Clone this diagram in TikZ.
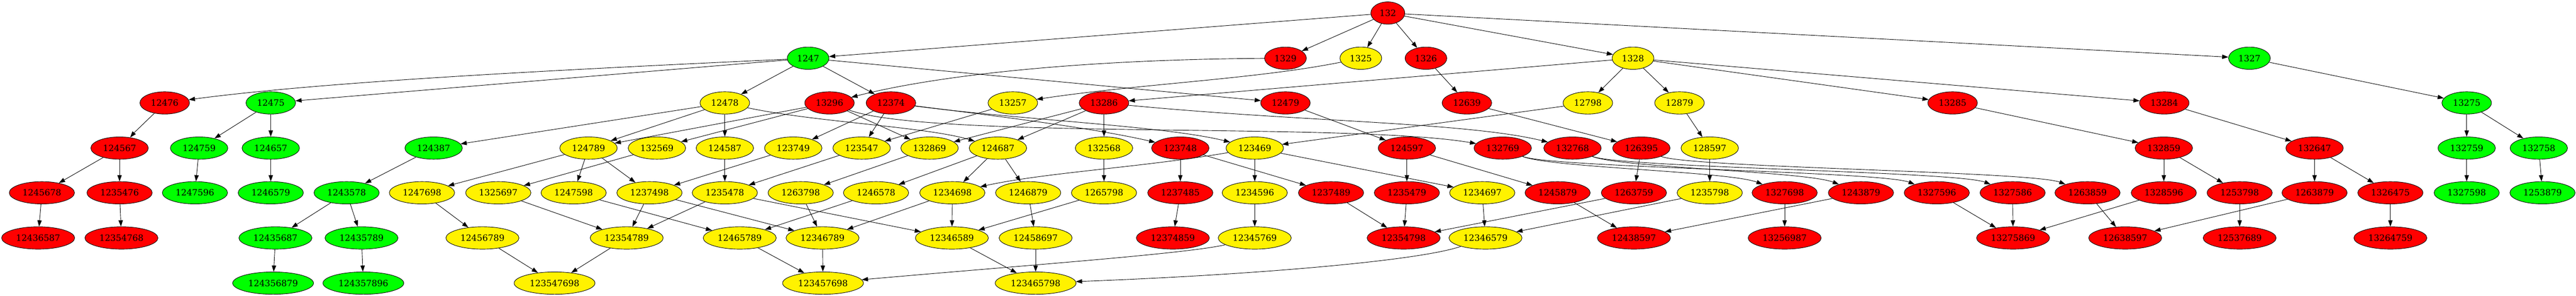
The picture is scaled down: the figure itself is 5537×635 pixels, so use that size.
\documentclass[tikz,border=0pt]{standalone}
\usepackage{fontspec}
\setmainfont{DejaVu Serif}
\usetikzlibrary{shapes.geometric,arrows.meta}

\begin{document}
\begin{tikzpicture}[x=0.75pt,y=-0.75pt,
    perm/.style={ellipse,draw=black,line width=0.75pt,inner xsep=6pt,inner ysep=1pt,minimum height=36pt,font=\fontsize{14}{17}\selectfont},
    rednode/.style={perm,fill=red},
    greennode/.style={perm,fill=green},
    yellownode/.style={perm,fill=yellow},
    link/.style={-{Triangle[length=10pt,width=7pt]},line width=0.75pt}]
   \useasboundingbox (0,0) rectangle (5537,635);

   \node[rednode] (n132) at (2983,28) {132};

   \node[greennode] (n1247) at (1737,125) {1247};
   \node[rednode] (n1329) at (2763,125) {1329};
   \node[yellownode] (n1325) at (2925,125) {1325};
   \node[rednode] (n1326) at (3065,125) {1326};
   \node[yellownode] (n1328) at (3510,125) {1328};
   \node[greennode] (n1327) at (4835,125) {1327};

   \node[rednode] (n12476) at (354,221) {12476};
   \node[greennode] (n12475) at (582,221) {12475};
   \node[yellownode] (n12478) at (1558,221) {12478};
   \node[rednode] (n13296) at (1783,221) {13296};
   \node[rednode] (n12374) at (1915,221) {12374};
   \node[yellownode] (n13257) at (2177,221) {13257};
   \node[rednode] (n13286) at (2373,221) {13286};
   \node[rednode] (n12479) at (2763,221) {12479};
   \node[rednode] (n12639) at (3153,221) {12639};
   \node[yellownode] (n12798) at (3413,221) {12798};
   \node[yellownode] (n12879) at (3610,221) {12879};
   \node[rednode] (n13285) at (4197,221) {13285};
   \node[rednode] (n13284) at (4652,221) {13284};
   \node[greennode] (n13275) at (5302,221) {13275};

   \node[rednode] (n124567) at (257,318) {124567};
   \node[greennode] (n124759) at (428,318) {124759};
   \node[greennode] (n124657) at (582,318) {124657};
   \node[greennode] (n124387) at (932,318) {124387};
   \node[yellownode] (n124789) at (1265,318) {124789};
   \node[yellownode] (n132569) at (1412,318) {132569};
   \node[yellownode] (n124587) at (1558,318) {124587};
   \node[yellownode] (n123749) at (1705,318) {123749};
   \node[yellownode] (n123547) at (1852,318) {123547};
   \node[yellownode] (n132869) at (1998,318) {132869};
   \node[yellownode] (n124687) at (2145,318) {124687};
   \node[yellownode] (n132568) at (2373,318) {132568};
   \node[rednode] (n123748) at (2537,318) {123748};
   \node[yellownode] (n123469) at (2697,318) {123469};
   \node[rednode] (n124597) at (3024,318) {124597};
   \node[rednode] (n132769) at (3230,318) {132769};
   \node[rednode] (n132768) at (3380,318) {132768};
   \node[rednode] (n126395) at (3528,318) {126395};
   \node[yellownode] (n128597) at (3675,318) {128597};
   \node[rednode] (n132859) at (4651,318) {132859};
   \node[rednode] (n132647) at (4975,318) {132647};
   \node[greennode] (n132759) at (5302,318) {132759};
   \node[greennode] (n132758) at (5457,318) {132758};

   \node[rednode] (n1245678) at (90,414) {1245678};
   \node[rednode] (n1235476) at (257,414) {1235476};
   \node[greennode] (n1247596) at (419,414) {1247596};
   \node[greennode] (n1246579) at (582,414) {1246579};
   \node[greennode] (n1243578) at (745,414) {1243578};
   \node[yellownode] (n1247698) at (907,414) {1247698};
   \node[yellownode] (n1325697) at (1071,414) {1325697};
   \node[yellownode] (n1247598) at (1233,414) {1247598};
   \node[yellownode] (n1237498) at (1396,414) {1237498};
   \node[yellownode] (n1235478) at (1558,414) {1235478};
   \node[yellownode] (n1263798) at (1721,414) {1263798};
   \node[yellownode] (n1246578) at (1883,414) {1246578};
   \node[yellownode] (n1234698) at (2047,414) {1234698};
   \node[yellownode] (n1246879) at (2210,414) {1246879};
   \node[yellownode] (n1265798) at (2373,414) {1265798};
   \node[rednode] (n1237485) at (2537,414) {1237485};
   \node[yellownode] (n1234596) at (2697,414) {1234596};
   \node[rednode] (n1237489) at (2861,414) {1237489};
   \node[rednode] (n1235479) at (3024,414) {1235479};
   \node[yellownode] (n1234697) at (3186,414) {1234697};
   \node[rednode] (n1245879) at (3348,414) {1245879};
   \node[rednode] (n1263759) at (3512,414) {1263759};
   \node[yellownode] (n1235798) at (3675,414) {1235798};
   \node[rednode] (n1327698) at (3836,414) {1327698};
   \node[rednode] (n1243879) at (4000,414) {1243879};
   \node[rednode] (n1327596) at (4163,414) {1327596};
   \node[rednode] (n1327586) at (4326,414) {1327586};
   \node[rednode] (n1263859) at (4487,414) {1263859};
   \node[rednode] (n1328596) at (4651,414) {1328596};
   \node[rednode] (n1253798) at (4814,414) {1253798};
   \node[rednode] (n1263879) at (4975,414) {1263879};
   \node[rednode] (n1326475) at (5138,414) {1326475};
   \node[greennode] (n1327598) at (5302,414) {1327598};
   \node[greennode] (n1253879) at (5465,414) {1253879};

   \node[rednode] (n12436587) at (82,511) {12436587};
   \node[rednode] (n12354768) at (261,511) {12354768};
   \node[greennode] (n12435687) at (592,511) {12435687};
   \node[greennode] (n12435789) at (777,511) {12435789};
   \node[yellownode] (n12456789) at (1037,511) {12456789};
   \node[yellownode] (n12354789) at (1347,511) {12354789};
   \node[yellownode] (n12465789) at (1590,511) {12465789};
   \node[yellownode] (n12346789) at (1768,511) {12346789};
   \node[yellownode] (n12346589) at (2046,511) {12346589};
   \node[yellownode] (n12458697) at (2226,511) {12458697};
   \node[rednode] (n12374859) at (2521,511) {12374859};
   \node[yellownode] (n12345769) at (2697,511) {12345769};
   \node[rednode] (n12354798) at (3017,511) {12354798};
   \node[yellownode] (n12346579) at (3193,511) {12346579};
   \node[rednode] (n12438597) at (3512,511) {12438597};
   \node[rednode] (n13256987) at (3836,511) {13256987};
   \node[rednode] (n13275869) at (4327,511) {13275869};
   \node[rednode] (n12638597) at (4568,511) {12638597};
   \node[rednode] (n12537689) at (4814,511) {12537689};
   \node[rednode] (n13264759) at (5138,511) {13264759};

   \node[greennode] (n124356879) at (587,608) {124356879};
   \node[greennode] (n124357896) at (781,608) {124357896};
   \node[yellownode] (n123547698) at (1192,608) {123547698};
   \node[yellownode] (n123457698) at (1769,608) {123457698};
   \node[yellownode] (n123465798) at (2226,608) {123465798};

   \draw[link] (n132) -- (n1247);
   \draw[link] (n132) -- (n1329);
   \draw[link] (n132) -- (n1325);
   \draw[link] (n132) -- (n1326);
   \draw[link] (n132) -- (n1328);
   \draw[link] (n132) -- (n1327);

   \draw[link] (n1247) .. controls (1200,150) and (700,175) .. (n12476);
   \draw[link] (n1247) -- (n12475);
   \draw[link] (n1247) -- (n12478);
   \draw[link] (n1247) -- (n12374);
   \draw[link] (n1247) -- (n12479);
   \draw[link] (n1329) .. controls (2300,128) and (2000,165) .. (n13296);
   \draw[link] (n1325) .. controls (2700,170) and (2450,180) .. (n13257);
   \draw[link] (n1326) -- (n12639);
   \draw[link] (n1328) -- (n13286);
   \draw[link] (n1328) -- (n12798);
   \draw[link] (n1328) -- (n12879);
   \draw[link] (n1328) -- (n13285);
   \draw[link] (n1328) -- (n13284);
   \draw[link] (n1327) -- (n13275);

   \draw[link] (n12476) -- (n124567);
   \draw[link] (n12475) -- (n124759);
   \draw[link] (n12475) -- (n124657);
   \draw[link] (n12478) -- (n124387);
   \draw[link] (n12478) -- (n124789);
   \draw[link] (n12478) -- (n124587);
   \draw[link] (n12478) .. controls (1750,262) and (1990,272) .. (n124687);
   \draw[link] (n13296) -- (n124789);
   \draw[link] (n13296) -- (n132569);
   \draw[link] (n13296) -- (n132869);
   \draw[link] (n13296) .. controls (2000,300) and (2900,262) .. (n132769);
   \draw[link] (n12374) -- (n123749);
   \draw[link] (n12374) -- (n123547);
   \draw[link] (n12374) .. controls (2150,250) and (2350,275) .. (n123748);
   \draw[link] (n12374) .. controls (2200,258) and (2500,270) .. (n123469);
   \draw[link] (n13257) -- (n123547);
   \draw[link] (n13286) -- (n132869);
   \draw[link] (n13286) -- (n124687);
   \draw[link] (n13286) -- (n132568);
   \draw[link] (n13286) .. controls (2800,262) and (3150,262) .. (n132768);
   \draw[link] (n12479) -- (n124597);
   \draw[link] (n12639) -- (n126395);
   \draw[link] (n12798) -- (n123469);
   \draw[link] (n12879) -- (n128597);
   \draw[link] (n13285) -- (n132859);
   \draw[link] (n13284) -- (n132647);
   \draw[link] (n13275) -- (n132759);
   \draw[link] (n13275) -- (n132758);

   \draw[link] (n124567) -- (n1245678);
   \draw[link] (n124567) -- (n1235476);
   \draw[link] (n124759) -- (n1247596);
   \draw[link] (n124657) -- (n1246579);
   \draw[link] (n124387) -- (n1243578);
   \draw[link] (n124789) -- (n1247698);
   \draw[link] (n124789) -- (n1247598);
   \draw[link] (n124789) -- (n1237498);
   \draw[link] (n132569) -- (n1325697);
   \draw[link] (n124587) -- (n1235478);
   \draw[link] (n123749) -- (n1237498);
   \draw[link] (n123547) -- (n1235478);
   \draw[link] (n132869) -- (n1263798);
   \draw[link] (n124687) -- (n1246578);
   \draw[link] (n124687) -- (n1234698);
   \draw[link] (n124687) -- (n1246879);
   \draw[link] (n132568) -- (n1265798);
   \draw[link] (n123748) -- (n1237485);
   \draw[link] (n123748) -- (n1237489);
   \draw[link] (n123469) .. controls (2450,360) and (2250,370) .. (n1234698);
   \draw[link] (n123469) -- (n1234596);
   \draw[link] (n123469) -- (n1234697);
   \draw[link] (n124597) -- (n1235479);
   \draw[link] (n124597) -- (n1245879);
   \draw[link] (n132769) .. controls (3330,360) and (3716,368) .. (n1327698);
   \draw[link] (n132769) .. controls (3330,360) and (4043,368) .. (n1327596);
   \draw[link] (n132768) .. controls (3480,360) and (3880,368) .. (n1243879);
   \draw[link] (n132768) .. controls (3480,360) and (4206,368) .. (n1327586);
   \draw[link] (n126395) -- (n1263759);
   \draw[link] (n126395) .. controls (3628,360) and (4367,368) .. (n1263859);
   \draw[link] (n128597) -- (n1235798);
   \draw[link] (n132859) -- (n1328596);
   \draw[link] (n132859) -- (n1253798);
   \draw[link] (n132647) -- (n1263879);
   \draw[link] (n132647) -- (n1326475);
   \draw[link] (n132759) -- (n1327598);
   \draw[link] (n132758) -- (n1253879);

   \draw[link] (n1245678) -- (n12436587);
   \draw[link] (n1235476) -- (n12354768);
   \draw[link] (n1243578) -- (n12435687);
   \draw[link] (n1243578) -- (n12435789);
   \draw[link] (n1247698) -- (n12456789);
   \draw[link] (n1325697) -- (n12354789);
   \draw[link] (n1247598) -- (n12465789);
   \draw[link] (n1237498) -- (n12354789);
   \draw[link] (n1237498) -- (n12346789);
   \draw[link] (n1235478) -- (n12354789);
   \draw[link] (n1235478) -- (n12346589);
   \draw[link] (n1263798) -- (n12346789);
   \draw[link] (n1246578) -- (n12465789);
   \draw[link] (n1234698) -- (n12346789);
   \draw[link] (n1234698) -- (n12346589);
   \draw[link] (n1246879) -- (n12458697);
   \draw[link] (n1265798) -- (n12346589);
   \draw[link] (n1237485) -- (n12374859);
   \draw[link] (n1234596) -- (n12345769);
   \draw[link] (n1237489) -- (n12354798);
   \draw[link] (n1235479) -- (n12354798);
   \draw[link] (n1234697) -- (n12346579);
   \draw[link] (n1245879) -- (n12438597);
   \draw[link] (n1263759) -- (n12354798);
   \draw[link] (n1235798) -- (n12346579);
   \draw[link] (n1327698) -- (n13256987);
   \draw[link] (n1243879) -- (n12438597);
   \draw[link] (n1327596) -- (n13275869);
   \draw[link] (n1327586) -- (n13275869);
   \draw[link] (n1263859) -- (n12638597);
   \draw[link] (n1328596) -- (n13275869);
   \draw[link] (n1253798) -- (n12537689);
   \draw[link] (n1263879) -- (n12638597);
   \draw[link] (n1326475) -- (n13264759);

   \draw[link] (n12435687) -- (n124356879);
   \draw[link] (n12435789) -- (n124357896);
   \draw[link] (n12456789) -- (n123547698);
   \draw[link] (n12354789) -- (n123547698);
   \draw[link] (n12465789) -- (n123457698);
   \draw[link] (n12346789) -- (n123457698);
   \draw[link] (n12345769) .. controls (2550,545) and (2200,570) .. (n123457698);
   \draw[link] (n12346589) -- (n123465798);
   \draw[link] (n12458697) -- (n123465798);
   \draw[link] (n12346579) .. controls (3050,560) and (2700,590) .. (n123465798);
\end{tikzpicture}
\end{document}
